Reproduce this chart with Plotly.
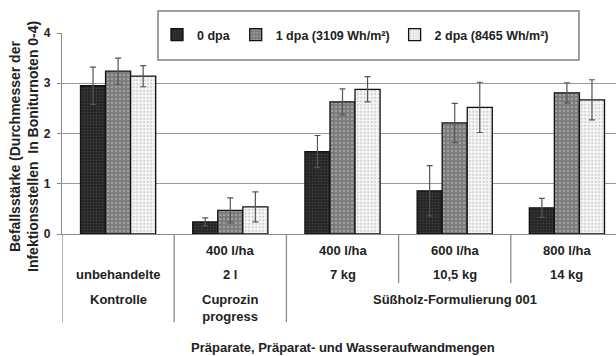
import plotly.graph_objects as go

# ---- data ----
categories = [0, 1, 2, 3, 4]
row1_labels = ["", "400 l/ha", "400 l/ha", "600 l/ha", "800 l/ha"]
row2_labels = ["unbehandelte", "2 l", "7 kg", "10,5 kg", "14 kg"]
group_labels = ["Kontrolle", "Cuprozin<br>progress", "Süßholz-Formulierung 001"]
group_pos = [0, 1, 3]

series_names = ["0 dpa", "1 dpa (3109 Wh/m²)", "2 dpa (8465 Wh/m²)"]
dpa0 = [2.95, 0.24, 1.64, 0.86, 0.52]
dpa0_err = [0.37, 0.08, 0.32, 0.50, 0.19]
dpa1 = [3.24, 0.47, 2.63, 2.21, 2.81]
dpa1_err = [0.26, 0.25, 0.26, 0.39, 0.20]
dpa2 = [3.14, 0.54, 2.88, 2.52, 2.67]
dpa2_err = [0.21, 0.30, 0.25, 0.50, 0.40]

y_ticks = [0, 1, 2, 3, 4]
x_title = "Präparate, Präparat- und Wasseraufwandmengen"
y_title1 = "Befallsstärke (Durchmesser der"
y_title2 = "Infektionsstellen  In Boniturnoten 0-4)"

# ---- styling ----
FONT = "Liberation Sans, Arial, sans-serif"
TXT = "#222222"
styles = [
    dict(bg="#222222", fg="#5a5a5a", size=3, solidity=0.35),
    dict(bg="#7a7a7a", fg="#c4c4c4", size=4, solidity=0.3),
    dict(bg="#f6f6f6", fg="#a8a8a8", size=3.5, solidity=0.3),
]

W, H = 616, 356
L, T, B, R = 62, 33, 122, 0
pw, ph = W - L - R, H - T - B


def px2x(px):
    return (px - L) / pw


def px2y(py):
    return (H - B - py) / ph


fig = go.Figure()
for name, vals, errs, st in zip(series_names, [dpa0, dpa1, dpa2],
                                [dpa0_err, dpa1_err, dpa2_err], styles):
    fig.add_trace(go.Bar(
        x=categories, y=vals, name=name,
        marker=dict(color=st["bg"],
                    line=dict(color="#111111", width=1.3),
                    pattern=dict(shape=".", fgcolor=st["fg"], bgcolor=st["bg"],
                                 size=st["size"], solidity=st["solidity"])),
        error_y=dict(type="data", array=errs, visible=True,
                     color="#555555", thickness=1.2, width=3),
    ))

annotations = []
for xv, t in zip(categories, row1_labels):
    if t:
        annotations.append(dict(x=xv, y=px2y(250), xref="x", yref="paper", text=t,
                                showarrow=False, yanchor="middle", xanchor="center"))
for xv, t in zip(categories, row2_labels):
    annotations.append(dict(x=xv, y=px2y(274), xref="x", yref="paper", text=t,
                            showarrow=False, yanchor="middle", xanchor="center"))
for xv, t in zip(group_pos, group_labels):
    annotations.append(dict(x=xv, y=px2y(290), xref="x", yref="paper", text=t,
                            showarrow=False, yanchor="top", xanchor="center"))
annotations.append(dict(x=px2x(343), y=px2y(347), xref="paper", yref="paper",
                        text=x_title, showarrow=False, yanchor="middle",
                        xanchor="center"))
annotations.append(dict(x=px2x(15), y=px2y(147), xref="paper", yref="paper",
                        text=y_title1, textangle=-90, showarrow=False,
                        xanchor="center", yanchor="middle",
                        font=dict(size=14)))
annotations.append(dict(x=px2x(33), y=px2y(147), xref="paper", yref="paper",
                        text=y_title2, textangle=-90, showarrow=False,
                        xanchor="center", yanchor="middle",
                        font=dict(size=14)))

shapes = []
for xs, yend in zip([-0.5, 0.5, 1.5, 2.5, 3.5], [322, 322, 322, 283, 283]):
    shapes.append(dict(type="line", xref="x", yref="paper", x0=xs, x1=xs,
                       y0=0, y1=px2y(yend), line=dict(color="#8a8a8a", width=1.3)))
# legend box
shapes.append(dict(type="rect", xref="paper", yref="paper",
                   x0=px2x(158), x1=px2x(579), y0=px2y(60), y1=px2y(11),
                   fillcolor="white", line=dict(color="#808080", width=1.5),
                   layer="above"))

fig.update_layout(
    width=W, height=H,
    margin=dict(l=L, r=R, t=T, b=B, pad=0),
    paper_bgcolor="white", plot_bgcolor="white",
    font=dict(family=FONT, size=13, color=TXT, weight="bold"),
    barmode="group", bargap=0.33, bargroupgap=0,
    showlegend=True,
    legend=dict(orientation="h", x=px2x(157), y=px2y(35), xanchor="left",
                yanchor="middle", bgcolor="rgba(0,0,0,0)",
                font=dict(size=12.5, family=FONT, color=TXT, weight="bold"),
                itemwidth=30, traceorder="normal"),
    annotations=annotations,
    shapes=shapes,
    xaxis=dict(range=[-0.5, 4.4375], showticklabels=False, ticks="",
               showgrid=False, zeroline=False, showline=True,
               linecolor="#8a8a8a", linewidth=1.3, fixedrange=True),
    yaxis=dict(range=[0, 4], tickvals=y_ticks, ticks="outside", ticklen=4,
               tickcolor="#8a8a8a", tickwidth=1.2, showline=True,
               linecolor="#8a8a8a", linewidth=1.3, showgrid=True,
               gridcolor="#9a9a9a", gridwidth=1, zeroline=False,
               ticklabelstandoff=4,
               tickfont=dict(size=12, family=FONT, color=TXT, weight="bold")),
)

fig.write_html(
    "out.html",
    config={"displayModeBar": False},
    post_script="document.body.style.margin='0';document.body.style.overflow='hidden';",
)
